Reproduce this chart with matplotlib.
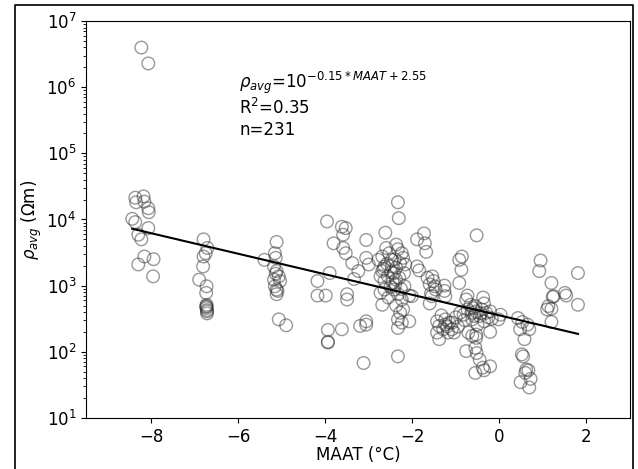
import numpy as np
import matplotlib
matplotlib.use("Agg")
import matplotlib.pyplot as plt
from matplotlib.lines import Line2D

# MAAT (°C) と log10(rho_avg) を図から読み取った値
maat = [
    -8.23, -8.07, -8.37, -8.35, -8.18, -8.16, -8.07, -8.06, -8.44, -8.37,
    -8.07, -8.30, -8.23, -8.16, -8.30, -7.95, -7.96,
    -6.80, -6.71, -6.75, -6.80, -6.81, -6.90, -6.73, -6.74, -6.73, -6.73,
    -6.72, -6.72, -6.73, -6.72, -6.74,
    -5.40, -5.12, -5.16, -5.14, -5.18, -5.12, -5.07, -5.18, -5.04, -5.16,
    -5.12, -5.12, -5.07, -4.90, -5.14, -5.10,
    -3.96, -4.18, -4.18, -3.99, -3.90, -3.94, -3.94, -3.94, -3.62, -3.62,
    -3.53, -3.81, -3.59, -3.53, -3.38, -3.50, -3.50, -3.59, -3.24, -3.34,
    -3.06, -3.06, -3.00, -3.20, -3.06, -3.06, -3.12,
    -2.62, -2.33, -2.31, -2.78, -2.69, -2.60, -2.53, -2.64, -2.69, -2.73,
    -2.64, -2.73, -2.69, -2.37, -2.33, -2.24, -2.28, -2.37, -2.42, -2.37,
    -2.39, -2.42, -2.33, -2.24, -2.37, -2.21, -2.16, -2.19, -2.18, -2.07,
    -2.47, -2.47, -2.33, -2.33, -2.24, -2.07, -2.33, -2.49, -2.56, -2.64,
    -2.55, -2.21, -2.28, -2.01, -2.66, -2.58, -2.45, -2.30, -2.26, -2.50,
    -2.40,
    -1.89, -1.73, -1.71, -1.68, -1.89, -1.84, -1.65, -1.54, -1.51, -1.48,
    -1.60, -1.57, -1.55, -1.60, -1.46, -1.26, -1.26, -1.24, -1.43, -1.38,
    -1.43, -1.38, -1.29, -1.24, -1.24, -1.18, -1.09, -1.09, -1.04, -0.95,
    -0.92, -1.20, -1.15, -1.00, -1.33,
    -0.86, -0.92, -0.87, -0.73, -0.76, -0.66, -0.73, -0.82, -0.90, -0.64,
    -0.57, -0.62, -0.55, -0.53, -0.53, -0.53, -0.76, -0.55, -0.52, -0.45,
    -0.38, -0.55, -0.21, -0.35, -0.52, -0.37, -0.35, -0.40, -0.45, -0.50,
    -0.21, -0.35, -0.17, -0.02, 0.03, -0.30, -0.21, -0.71, -0.62, -0.80,
    -0.60, -0.42, -0.25,
    0.43, 0.53, 0.48, 0.58, 0.52, 0.55, 0.62, 0.67, 0.60, 0.49,
    0.72, 0.69, 0.69, 0.65,
    0.95, 0.92, 1.20, 1.25, 1.23, 1.13, 1.10, 1.20, 1.20, 1.51,
    1.54, 1.81, 1.81,
]
log_rho = [
    6.60, 6.36, 4.33, 4.26, 4.35, 4.27, 4.17, 4.11, 4.01, 3.96,
    3.87, 3.77, 3.70, 3.44, 3.32, 3.40, 3.14,
    3.70, 3.57, 3.49, 3.44, 3.29, 3.09, 2.99, 2.89, 2.71, 2.66,
    2.61, 2.58, 2.69, 2.63, 2.68,
    3.39, 3.66, 3.49, 3.42, 3.29, 3.22, 3.14, 3.09, 3.07, 2.99,
    2.94, 2.87, 2.49, 2.40, 3.18, 2.92,
    3.97, 3.07, 2.85, 2.85, 3.19, 2.33, 2.14, 2.15, 2.34, 3.89,
    3.87, 3.64, 3.57, 3.49, 3.34, 2.87, 2.79, 3.77, 3.22, 3.10,
    3.69, 3.42, 3.32, 2.39, 2.41, 2.46, 1.83,
    3.80, 4.26, 4.02, 3.39, 3.44, 3.57, 3.49, 3.29, 3.22, 3.14,
    3.07, 2.89, 2.71, 3.62, 3.55, 3.49, 3.34, 3.27, 3.19, 3.09,
    3.02, 2.94, 2.87, 2.79, 2.70, 3.42, 3.32, 3.19, 2.99, 2.85,
    3.39, 3.29, 2.49, 2.36, 2.44, 2.46, 1.93, 3.20, 3.14, 2.94,
    2.82, 2.64, 2.59, 2.84, 3.25, 3.33, 3.05, 3.12, 2.95, 2.98,
    3.40,
    3.70, 3.79, 3.64, 3.51, 3.29, 3.23, 3.12, 3.14, 3.07, 2.99,
    3.02, 2.88, 2.84, 2.73, 2.94, 3.00, 2.92, 2.84, 2.46, 2.39,
    2.29, 2.19, 2.34, 2.41, 2.49, 2.29, 2.34, 2.44, 2.29, 2.38,
    3.04, 2.38, 2.44, 2.52, 2.55,
    3.44, 3.39, 3.24, 2.85, 2.79, 2.71, 2.64, 2.56, 2.59, 2.59,
    2.54, 2.49, 2.69, 2.61, 2.26, 2.21, 2.01, 2.06, 1.98, 1.88,
    1.76, 1.68, 1.78, 1.72, 3.76, 2.82, 2.73, 2.64, 2.54, 2.41,
    2.30, 2.46, 2.50, 2.49, 2.56, 2.59, 2.61, 2.29, 2.24, 2.48,
    2.66, 2.58, 2.52,
    2.51, 2.45, 2.34, 2.19, 1.96, 1.93, 1.73, 1.72, 1.68, 1.54,
    1.59, 1.46, 2.34, 2.41,
    3.38, 3.22, 3.04, 2.84, 2.83, 2.69, 2.64, 2.65, 2.45, 2.89,
    2.85, 3.19, 2.71,
]

# 回帰直線の両端
fit_x = [-8.44, 1.81]
fit_log = [3.86, 2.27]

rho = 10 ** np.array(log_rho)
fit_y = 10 ** np.array(fit_log)

fig = plt.figure(figsize=(6.38, 4.69), dpi=100)
ax = fig.add_axes([0.135, 0.109, 0.852, 0.846])

ax.scatter(maat, rho, s=82, facecolors="none", edgecolors="#333333",
           linewidths=1.0, alpha=0.5)
ax.plot(fit_x, fit_y, color="k", linewidth=1.5)

ax.set_yscale("log")
ax.set_ylim(10, 1e7)
ax.set_xlim(-9.5, 3.0)
ax.set_xticks([-8, -6, -4, -2, 0, 2])
ax.set_xticklabels(["\u22128", "\u22126", "\u22124", "\u22122", "0", "2"])

ax.set_xlabel("MAAT (°C)", fontsize=12, labelpad=0)
ax.set_ylabel(r"$\rho_{avg}$ (Ωm)", fontsize=12, labelpad=2)
ax.tick_params(labelsize=12)

ax.text(-5.98, 10 ** 6.06, r"$\rho_{avg}$=10$^{-0.15*MAAT+2.55}$",
        fontsize=12, va="center")
ax.text(-5.98, 10 ** 5.69, r"R$^2$=0.35", fontsize=12, va="center")
ax.text(-5.98, 10 ** 5.35, "n=231", fontsize=12, va="center")

# 外枠
fig.add_artist(Line2D([15 / 638, 15 / 638, 633 / 638, 633 / 638],
                      [0, 1 - 5 / 469, 1 - 5 / 469, 0],
                      transform=fig.transFigure, color="k", linewidth=1.2))

fig.savefig("out.png", dpi=100)
